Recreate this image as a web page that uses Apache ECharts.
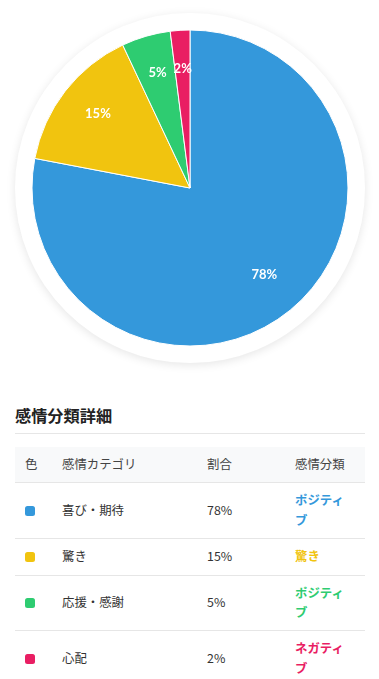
<!DOCTYPE html>
<html>
<head>
<meta charset="utf-8">
<script src="https://cdn.jsdelivr.net/npm/echarts@6/dist/echarts.min.js"></script>
<style>
  html, body { margin: 0; padding: 0; background: #fff; }
  body { width: 379px; height: 679px; overflow: hidden; position: relative;
         font-family: "Noto Sans CJK JP", "Noto Sans", sans-serif; color: #333; }
  #chart { position: absolute; left: 0; top: 0; width: 379px; height: 378px; }
  #detail { position: absolute; left: 15px; top: 401px; width: 350px; }
  h3 { margin: 0; font-size: 16.2px; font-weight: 700; color: #222; line-height: 28px;
       padding-bottom: 4px; border-bottom: 1px solid #e6e6e6; }
  table { margin-top: 13px; width: 350px; border-collapse: collapse; table-layout: fixed; font-size: 12.4px; }
  th, td { padding: 8px 10px; line-height: 19.4px; text-align: left; border-bottom: 1px solid #e6e6e6; vertical-align: middle; }
  th { background: #f8f9fa; font-weight: 400; color: #444; }
  td { color: #333; }
  .sw { display: inline-block; width: 10px; height: 10px; border-radius: 2.5px; vertical-align: middle; position: relative; top: -1px; }
  .cls { font-weight: 700; }
</style>
</head>
<body>
<div id="chart"></div>
<div id="detail">
  <h3>感情分類詳細</h3>
  <table>
    <colgroup><col style="width:37px"><col style="width:145px"><col style="width:88px"><col style="width:80px"></colgroup>
    <thead><tr><th>色</th><th>感情カテゴリ</th><th>割合</th><th>感情分類</th></tr></thead>
    <tbody id="tb"></tbody>
  </table>
</div>
<script>
const categories = ['喜び・期待', '驚き', '応援・感謝', '心配'];
const shares = [78, 15, 5, 2];
const colors = ['#3498db', '#f1c40f', '#2ecc71', '#e91e63'];
const classes = ['ポジティブ', '驚き', 'ポジティブ', 'ネガティブ'];

const tb = document.getElementById('tb');
categories.forEach((c, i) => {
  const tr = document.createElement('tr');
  tr.innerHTML = '<td><span class="sw" style="background:' + colors[i] + '"></span></td>' +
    '<td>' + c + '</td><td>' + shares[i] + '%</td>' +
    '<td class="cls" style="color:' + colors[i] + '">' + classes[i] + '</td>';
  tb.appendChild(tr);
});

const chart = echarts.init(document.getElementById('chart'), null, { renderer: 'canvas' });
const pieData = categories.map((c, i) => ({ name: c, value: shares[i], itemStyle: { color: colors[i] } }));
chart.setOption({
  animation: false,
  graphic: [{
    type: 'circle', shape: { cx: 190, cy: 188, r: 175 }, z: -10,
    style: { fill: '#fff', shadowBlur: 10, shadowColor: 'rgba(0,0,0,0.10)', shadowOffsetY: 2 }
  }],
  series: [
    {
      type: 'pie', center: [190, 188], radius: [0, 158], startAngle: 90, clockwise: true,
      silent: true, data: pieData,
      itemStyle: { borderColor: '#fff', borderWidth: 1 },
      label: { show: false }, labelLine: { show: false }
    },
    {
      type: 'pie', center: [190, 188], radius: [69, 158], startAngle: 90, clockwise: true,
      silent: true, data: pieData.map(d => ({ name: d.name, value: d.value, itemStyle: { color: 'rgba(0,0,0,0)' } })),
      itemStyle: { borderWidth: 0 },
      label: { show: true, position: 'inside', formatter: '{c}%', color: '#fff', fontWeight: 'bold',
               fontSize: 13, fontFamily: 'Lato, "Noto Sans", sans-serif', offset: [0, -3] },
      labelLine: { show: false }
    }
  ]
});
</script>
</body>
</html>
